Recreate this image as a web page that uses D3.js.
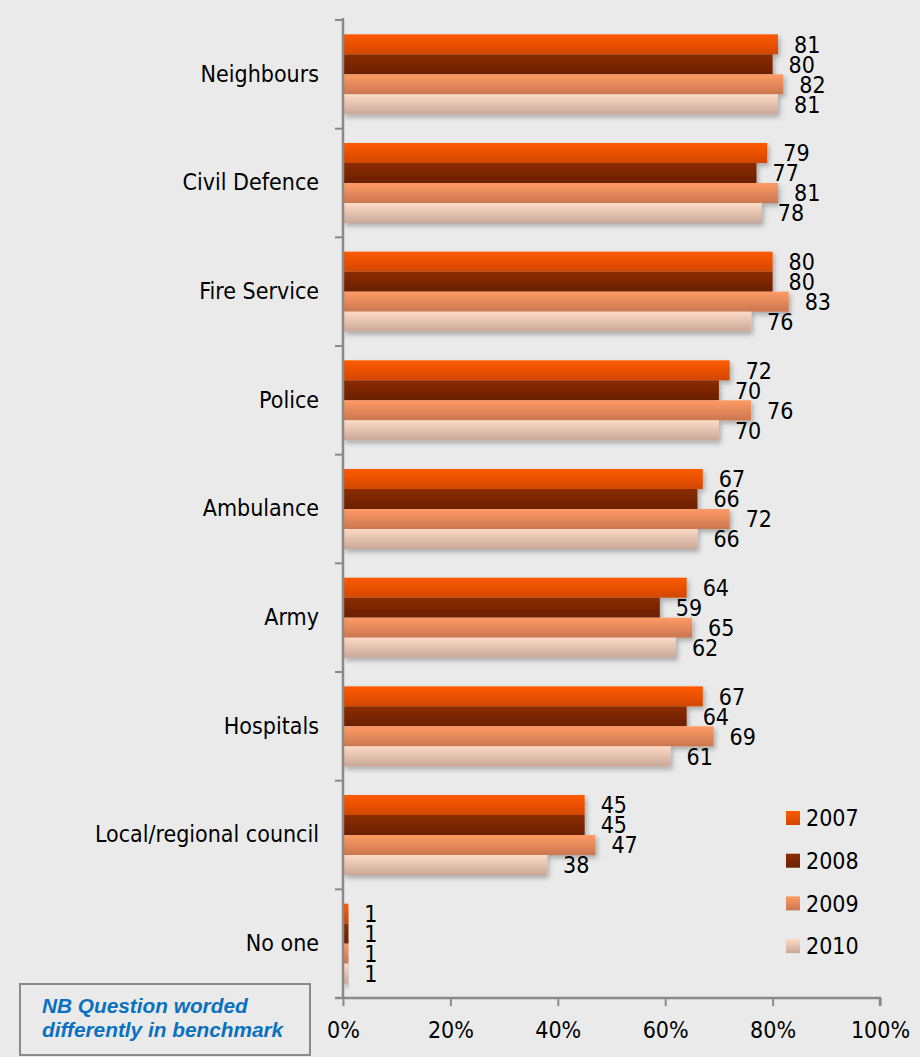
<!DOCTYPE html>
<html>
<head>
<meta charset="utf-8">
<script src="https://cdn.jsdelivr.net/npm/d3@7"></script>
<style>
  html, body { margin: 0; padding: 0; background: #eaeaea; }
  svg { display: block; }
</style>
</head>
<body>
<div id="chart"></div>
<script>
// Who people would turn to, by year (% of respondents)
const categories = ["Neighbours", "Civil Defence", "Fire Service", "Police", "Ambulance",
                    "Army", "Hospitals", "Local/regional council", "No one"];
const years = ["2007", "2008", "2009", "2010"];
const values2007 = [81, 79, 80, 72, 67, 64, 67, 45, 1];
const values2008 = [80, 77, 80, 70, 66, 59, 64, 45, 1];
const values2009 = [82, 81, 83, 76, 72, 65, 69, 47, 1];
const values2010 = [81, 78, 76, 70, 66, 62, 61, 38, 1];
const tickValues = [0, 20, 40, 60, 80, 100];
const noteLines = ["NB Question worded", "differently in benchmark"];

const series = [values2007, values2008, values2009, values2010];
// top / bottom colours of each year's bar gradient
const gradients = [
  ["#ff5a00", "#d24700"],
  ["#8c2d00", "#6a1f00"],
  ["#ff9b66", "#cb764f"],
  ["#fcdac6", "#c9a898"]
];

const W = 920, H = 1057;
const x0 = 343, x1 = 880, yTop = 20, yBottom = 998;
const font = "'DejaVu Sans Condensed', 'DejaVu Sans', Verdana, sans-serif";
const fs = 23;

const svg = d3.select("#chart").append("svg")
  .attr("width", W).attr("height", H);
svg.append("rect").attr("width", W).attr("height", H).attr("fill", "#eaeaea");

const defs = svg.append("defs");
gradients.forEach((g, i) => {
  const lg = defs.append("linearGradient").attr("id", "grad" + i)
    .attr("x1", 0).attr("y1", 0).attr("x2", 0).attr("y2", 1);
  lg.append("stop").attr("offset", "0%").attr("stop-color", g[0]);
  lg.append("stop").attr("offset", "100%").attr("stop-color", g[1]);
});
const shadow = defs.append("filter").attr("id", "shadow")
  .attr("x", "-5%").attr("y", "-20%").attr("width", "115%").attr("height", "160%");
shadow.append("feDropShadow").attr("dx", 2).attr("dy", 3).attr("stdDeviation", 2.5)
  .attr("flood-color", "#000").attr("flood-opacity", 0.28);

const x = d3.scaleLinear().domain([0, 100]).range([x0, x1]);
const y = d3.scaleBand().domain(categories).range([yTop, yBottom]).paddingInner(0).paddingOuter(0);
const inner = d3.scaleBand().domain(years).range([0, y.bandwidth()]).paddingOuter(0.717).paddingInner(0);

// bars, grouped per category so each group gets one drop shadow
const groups = svg.append("g").selectAll("g.cat").data(categories).join("g")
  .attr("class", "cat")
  .attr("transform", d => `translate(0,${y(d)})`);

const barsLayer = groups.append("g").attr("filter", "url(#shadow)");
barsLayer.selectAll("rect").data((c, ci) => years.map((yr, si) => ({ yr, si, v: series[si][ci] })))
  .join("rect")
  .attr("x", x(0))
  .attr("y", d => inner(d.yr))
  .attr("width", d => x(d.v) - x(0))
  .attr("height", inner.bandwidth())
  .attr("fill", d => `url(#grad${d.si})`);

groups.append("g").selectAll("text")
  .data((c, ci) => years.map((yr, si) => ({ yr, si, v: series[si][ci] })))
  .join("text")
  .attr("x", d => x(d.v) + 16)
  .attr("y", d => inner(d.yr) + inner.bandwidth() / 2)
  .attr("dy", "0.36em")
  .attr("font-family", font).attr("font-size", fs).attr("fill", "#000")
  .text(d => d.v);

// category axis
const yAxis = d3.axisLeft(y).tickSize(0).tickPadding(24);
const gy = svg.append("g").attr("transform", `translate(${x0},0)`).call(yAxis);
gy.select(".domain").attr("stroke", "#898989").attr("stroke-width", 2.5)
  .attr("d", `M0,${yTop - 2}V${yBottom}`);
gy.selectAll(".tick text").attr("font-family", font).attr("font-size", fs).attr("fill", "#000");
// boundary ticks between categories
svg.append("g").selectAll("line")
  .data(d3.range(categories.length + 1))
  .join("line")
  .attr("x1", x0 - 8).attr("x2", x0)
  .attr("y1", i => yTop + i * y.step()).attr("y2", i => yTop + i * y.step())
  .attr("stroke", "#898989").attr("stroke-width", 2);

// value axis
const xAxis = d3.axisBottom(x).tickValues(tickValues).tickSize(8).tickPadding(16)
  .tickFormat(d => d + "%");
const gx = svg.append("g").attr("transform", `translate(0,${yBottom})`).call(xAxis);
gx.select(".domain").attr("stroke", "#898989").attr("stroke-width", 2.5)
  .attr("d", `M${x0 - 8},0H${x1}V8`);
gx.selectAll(".tick line").attr("stroke", "#898989").attr("stroke-width", 2);
gx.selectAll(".tick text").attr("font-family", font).attr("font-size", fs).attr("fill", "#000");

// legend
const legend = svg.append("g").attr("transform", "translate(786,818)");
const li = legend.selectAll("g").data(years).join("g")
  .attr("transform", (d, i) => `translate(0,${i * 42.7})`);
li.append("rect").attr("x", 0).attr("y", -7).attr("width", 14).attr("height", 14)
  .attr("fill", (d, i) => `url(#grad${i})`);
li.append("text").attr("x", 20).attr("y", 0).attr("dy", "0.36em")
  .attr("font-family", font).attr("font-size", fs).attr("fill", "#000")
  .text(d => d);

// note box
const note = svg.append("g");
note.append("rect").attr("x", 20).attr("y", 984).attr("width", 290).attr("height", 71)
  .attr("fill", "#eaeaea").attr("stroke", "#8a8a8a").attr("stroke-width", 2);
note.selectAll("text").data(noteLines).join("text")
  .attr("x", 42).attr("y", (d, i) => 1013 + i * 24)
  .attr("font-family", "'Liberation Sans', Arial, sans-serif")
  .attr("font-size", 20.8).attr("font-weight", "bold").attr("font-style", "italic")
  .attr("fill", "#0a70c0")
  .text(d => d);
</script>
</body>
</html>
